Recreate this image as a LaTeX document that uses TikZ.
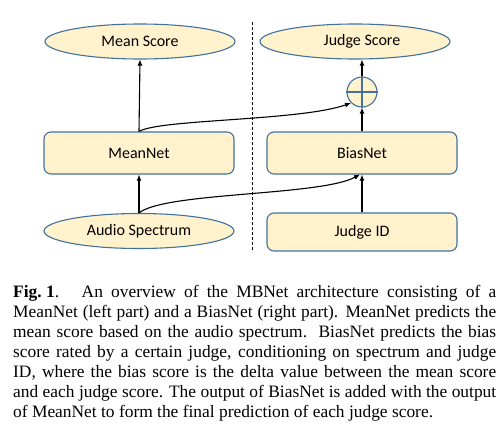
\documentclass[tikz,border=0pt]{standalone}
\usepackage{fontspec}
\setmainfont{Liberation Serif}
\newfontfamily\nodefont{Carlito}
\usetikzlibrary{shapes.geometric,arrows.meta}
\definecolor{boxfill}{HTML}{FFF2CC}
\definecolor{boxline}{HTML}{41719C}
\tikzset{
  base/.style={draw=boxline,fill=boxfill,line width=1.1pt,inner sep=0pt,font=\nodefont\fontsize{16}{19}\selectfont},
  ell/.style={base,ellipse,minimum width=190pt,minimum height=35pt},
  rbox/.style={base,rectangle,rounded corners=7pt,minimum width=190pt,minimum height=42pt},
  plusnode/.style={base,circle,minimum size=30pt},
  conn/.style={line width=1.1pt,-{Latex[length=6pt,width=5pt]}},
  captext/.style={anchor=north west,inner sep=0pt,text width=483pt,align=justify,font=\fontsize{17.4}{20}\selectfont},
}
\begin{document}
\begin{tikzpicture}[x=1pt,y=-1pt]
\useasboundingbox (0,0) rectangle (503,439);
\node[ell] (ms) at (140,41.5) {Mean Score};
\node[ell] (js) at (355,41.5) {\hspace*{14pt}Judge Score};
\node[plusnode] (plus) at (362,92) {};
\draw[boxline,line width=1.1pt] (plus.north) -- (plus.south) (plus.west) -- (plus.east);
\node[rbox] (mn) at (139,153) {MeanNet};
\node[rbox] (bn) at (362,153) {BiasNet};
\node[ell] (as) at (139,231) {Audio Spectrum};
\node[rbox,minimum height=38pt] (jid) at (362,232) {Judge ID};
\coordinate (d1) at (252,22);
\coordinate (d2) at (252,252);
\draw[dashed,line width=0.8pt,dash pattern=on 2.5pt off 2.5pt] (d1) -- (d2);
\draw[conn] (mn.north) -- (ms.south);
\draw[conn] (mn.north) .. controls (160,119) and (300,121) .. (plus.south west);
\draw[conn] (bn.north) -- (plus.south);
\draw[conn] (plus.north) -- (js.south -| plus.north);
\draw[conn] (as.north) -- (mn.south);
\draw[conn] (as.north) .. controls (165,192) and (320,196) .. ([xshift=-2pt]bn.south);
\draw[conn] (jid.north) -- (bn.south);
\node[captext] (cap) at (13,285) {%
\mbox{\textbf{Fig.~1}.}\hspace{1.3em}An overview of the MBNet architecture consisting of a\linebreak
MeanNet (left part) and a BiasNet (right part). MeanNet predicts the\linebreak
mean score based on the audio spectrum.\ \ BiasNet predicts the bias\linebreak
score rated by a certain judge, conditioning on spectrum and judge\linebreak
ID, where the bias score is the delta value between the mean score\linebreak
and each judge score. The output of BiasNet is added with the output\linebreak
of MeanNet to form the final prediction of each judge score.\par};
\end{tikzpicture}
\end{document}
